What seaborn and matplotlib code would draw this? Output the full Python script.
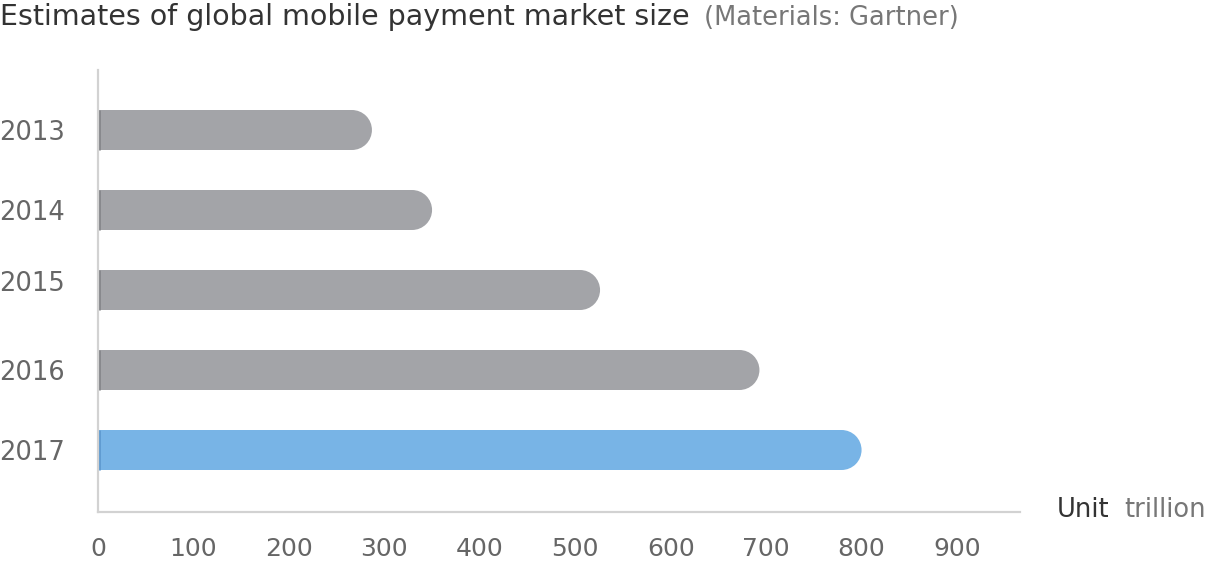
import matplotlib
matplotlib.use('Agg')
import matplotlib.pyplot as plt
import matplotlib.transforms as mtransforms
from matplotlib.patches import Ellipse
import seaborn as sns

# data
years = ['2013', '2014', '2015', '2016', '2017']
values = [287, 350, 526, 693, 800]
bar_colors = ['#a3a4a8', '#a3a4a8', '#a3a4a8', '#a3a4a8', '#78b4e6']
edge_colors = ['#85868a', '#85868a', '#85868a', '#85868a', '#5e9ad0']
xticks = [0, 100, 200, 300, 400, 500, 600, 700, 800, 900]

sns.set_style('white')
plt.rcParams['font.family'] = ['DejaVu Sans']

fig = plt.figure(figsize=(12.06, 5.66), dpi=100)
ax = fig.add_axes([98 / 1206, 54 / 566, 922 / 1206, 442 / 566])

sns.barplot(x=values, y=years, hue=years, palette=bar_colors, legend=False,
            orient='h', width=0.5, ax=ax, saturation=1)

ax.set_xlim(0, 966)
ax.set_ylim(4.775, -0.75)

# round the right end of every bar
px_per_x = ax.transData.transform((1, 0))[0] - ax.transData.transform((0, 0))[0]
for i, p in enumerate(list(ax.patches)):
    x, y, w, h = p.get_x(), p.get_y(), p.get_width(), p.get_height()
    h_px = abs(ax.transData.transform((0, y))[1] - ax.transData.transform((0, y + h))[1])
    rx = (h_px / 2) / px_per_x
    p.set_width(w - rx)
    p.set_edgecolor('none')
    ax.add_patch(Ellipse((x + w - rx, y + h / 2), 2 * rx, h,
                         facecolor=bar_colors[i], edgecolor='none'))
    ax.plot([0.6, 0.6], [y, y + h], color=edge_colors[i], lw=2, solid_capstyle='butt')

for side in ['top', 'right']:
    ax.spines[side].set_visible(False)
for side in ['left', 'bottom']:
    ax.spines[side].set_color('#d2d2d2')
    ax.spines[side].set_linewidth(1.6)

ax.set_xticks(xticks)
ax.set_xticklabels([str(t) for t in xticks])
ax.tick_params(axis='x', length=0, pad=18, labelsize=18, labelcolor='#666666')
ax.tick_params(axis='y', length=0, pad=24, labelsize=18.5, labelcolor='#666666')
ax.set_xlabel('')
ax.set_ylabel('')

# the 2015 label sits a little higher in the source
lab = ax.get_yticklabels()[2]
lab.set_transform(lab.get_transform() + mtransforms.ScaledTranslation(0, 9 / 100, fig.dpi_scale_trans))

# title and unit
t = fig.text(0.0, 1 - 25 / 566, 'Estimates of global mobile payment market size',
             fontsize=20.5, color='#333333', va='baseline', ha='left')
fig.canvas.draw()
bb = t.get_window_extent()
fig.text((bb.x1 + 14) / 1206, 1 - 25 / 566, '(Materials: Gartner)',
         fontsize=18.5, color='#777777', va='baseline', ha='left')

fig.text(1057 / 1206, 1 - 517 / 566, 'Unit', fontsize=18.5, color='#333333',
         va='baseline', ha='left')
fig.text(1.0, 1 - 517 / 566, 'trillion', fontsize=18.5, color='#777777',
         va='baseline', ha='right')

fig.savefig('out.png', dpi=100)
